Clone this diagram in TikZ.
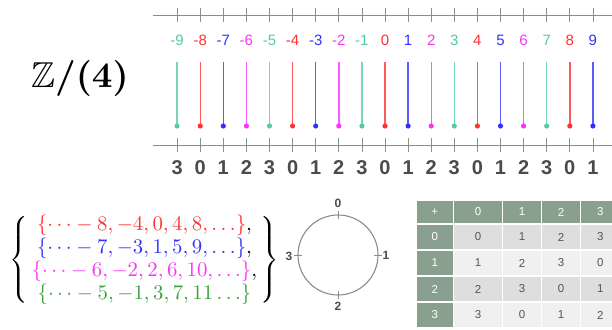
\documentclass[tikz,border=0pt]{standalone}
\usepackage{amssymb}
\usepackage{graphicx}
\usepackage{fontspec}
\usetikzlibrary{calc}
\newfontfamily\arialf{Liberation Sans}
\definecolor{c0}{RGB}{255,50,50}
\definecolor{c1}{RGB}{50,50,250}
\definecolor{c2}{RGB}{250,50,250}
\definecolor{c3}{RGB}{85,205,155}
\definecolor{setgreen}{RGB}{60,160,60}
\definecolor{axisgray}{RGB}{140,140,140}
\definecolor{labgray}{RGB}{75,75,75}
\definecolor{hdr}{RGB}{138,160,143}
\definecolor{rowA}{RGB}{222,222,222}
\definecolor{rowB}{RGB}{240,240,240}
\definecolor{cellgray}{RGB}{85,85,85}
\tikzset{
  axisline/.style={draw=axisgray, line width=0.9pt},
  tickmark/.style={draw=axisgray, line width=0.8pt},
  stem/.style={line width=1.4pt, opacity=0.8},
  toplab/.style={font=\arialf\fontsize{15}{17}\selectfont, inner sep=0pt},
  botlab/.style={font=\arialf\bfseries\fontsize{20}{22}\selectfont, text=labgray, inner sep=0pt},
  cyclab/.style={font=\arialf\bfseries\fontsize{12}{13}\selectfont, text=labgray, inner sep=0pt},
  cell/.style={draw=white, line width=1.2pt},
  celltext/.style={font=\arialf\fontsize{11.5}{12}\selectfont, inner sep=0pt},
}
\begin{document}
\begin{tikzpicture}[x=1pt,y=-1pt]
\useasboundingbox (0,0) rectangle (612,329);
% title
\node[inner sep=0pt] (zq) at (80,78) {\scalebox{3.6}{\boldmath$\mathbb{Z}/(4)$}};
% axes
\coordinate (tl) at (153,15); \coordinate (tr) at (612,15);
\coordinate (bl) at (153,145); \coordinate (br) at (612,145);
\draw[axisline] (tl) -- (tr);
\draw[axisline] (bl) -- (br);
\foreach \n in {-9,...,9}{
  \pgfmathtruncatemacro\m{Mod(\n,4)}
  \pgfmathsetmacro\xx{385+23.1*\n}
  \draw[tickmark] (\xx,8) -- (\xx,22);
  \draw[tickmark] (\xx,138) -- (\xx,152);
  \node[toplab, text=c\m] (t\n) at (\xx,40) {\n};
  \coordinate (s\n) at (\xx,62);
  \coordinate (e\n) at (\xx,126);
  \draw[stem, c\m] (s\n) -- (e\n);
  \fill[c\m] (e\n) circle (2.6);
  \node[botlab] (b\n) at (\xx,168) {\m};
}
% residue classes
\node[inner sep=0pt] (sets) at (144.5,260)
{\scalebox{2.08}{\renewcommand{\arraystretch}{0.92}$\left\{\begin{array}{@{\,}c@{\,}}
{\color{c0}\{\cdots-8,-4,0,4,8,\dots\}},\\
{\color{c1}\{\cdots-7,-3,1,5,9,\dots\}},\\
{\color{c2}\{\cdots-6,-2,2,6,10,\dots\}},\\
{\color{setgreen}\{\cdots-5,-1,3,7,11\dots\}}
\end{array}\right\}$}};
% cycle
\node[circle, draw=axisgray, line width=1.1pt, minimum size=80pt, inner sep=0pt] (cyc) at (338,255) {};
\foreach \a in {90,0,270,180}{
  \draw[tickmark] ($(cyc.center)+(\a:36)$) -- ($(cyc.center)+(\a:44)$);
}
\node[cyclab] (c0l) at (338,203) {0};
\node[cyclab] (c1l) at (386,255) {1};
\node[cyclab] (c2l) at (338,306) {2};
\node[cyclab] (c3l) at (289,256) {3};
% table
\def\colx{{416,453.5,502.5,541.5,580.5,620}}
\def\rowy{{200,224,250,276,302,328}}
\foreach \r in {0,...,4}{
  \foreach \c in {0,...,4}{
    \pgfmathsetmacro\xa{\colx[\c]}
    \pgfmathsetmacro\xb{\colx[\c+1]}
    \pgfmathsetmacro\ya{\rowy[\r]}
    \pgfmathsetmacro\yb{\rowy[\r+1]}
    \pgfmathtruncatemacro\isodd{Mod(\r,2)}
    \ifnum\r=0 \def\fc{hdr}\def\tc{white}\else
      \ifnum\c=0 \def\fc{hdr}\def\tc{white}\else
        \ifnum\isodd=1 \def\fc{rowA}\else\def\fc{rowB}\fi
        \def\tc{cellgray}\fi\fi
    \filldraw[cell, fill=\fc] (\xa,\ya) rectangle (\xb,\yb);
    \pgfmathtruncatemacro\val{Mod(\r+\c-2,4)}
    \ifnum\r=0
      \ifnum\c=0 \def\txt{+}\else\pgfmathtruncatemacro\txt{\c-1}\fi
    \else
      \ifnum\c=0 \pgfmathtruncatemacro\txt{\r-1}\else\let\txt\val\fi
    \fi
    \node[celltext, text=\tc] (cell\r\c) at ({(\xa+\xb)/2},{(\ya+\yb)/2}) {\txt};
  }
}
\end{tikzpicture}
\end{document}
